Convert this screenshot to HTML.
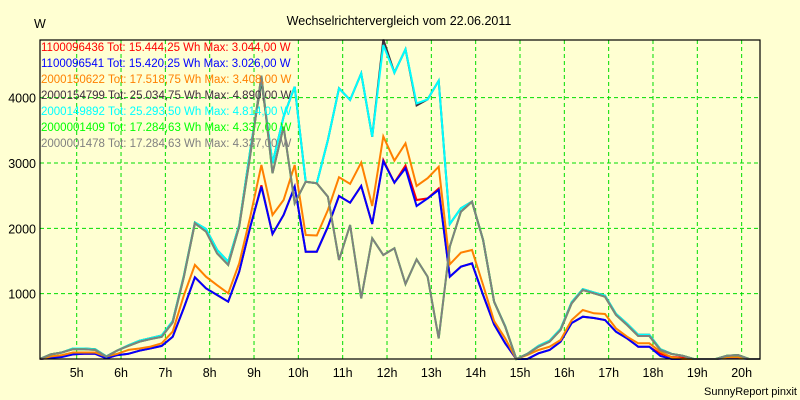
<!DOCTYPE html>
<html><head><meta charset="utf-8"><style>
body{margin:0;background:#FFFFD2;}
svg{display:block;font-family:"Liberation Sans",sans-serif;}
</style></head><body>
<svg id="chart" width="800" height="400" viewBox="0 0 800 400" xmlns="http://www.w3.org/2000/svg">
<rect x="0" y="0" width="800" height="400" fill="#FFFFD2"/>
<text x="399" y="25" font-size="12.5" text-anchor="middle" fill="#000">Wechselrichtervergleich vom 22.06.2011</text>
<text x="34" y="28" font-size="12.5" fill="#000">W</text>
<g id="grid"></g>
<g id="series"></g>
<rect x="40" y="40" width="720" height="319" fill="none" stroke="#000" stroke-width="1.2"/>
<g id="yticks"></g>
<g id="xticks"></g>
<g id="legend"></g>
<text x="797" y="395" font-size="11" text-anchor="end" fill="#000">SunnyReport pinxit</text>
</svg>
<script>
const startHour = 4 + 10/60;
const stepHour = 0.25;
const yTicks = [1000, 2000, 3000, 4000];
const xTickHours = [5,6,7,8,9,10,11,12,13,14,15,16,17,18,19,20];
const seriesNames = ["1100096436","1100096541","2000150622","2000154799","2000149892","2000001409","2000001478"];
const seriesInfo = ["Tot: 15.444,25 Wh Max: 3.044,00 W","Tot: 15.420,25 Wh Max: 3.026,00 W","Tot: 17.518,75 Wh Max: 3.408,00 W","Tot: 25.034,75 Wh Max: 4.890,00 W","Tot: 25.293,50 Wh Max: 4.814,00 W","Tot: 17.284,63 Wh Max: 4.337,00 W","Tot: 17.284,63 Wh Max: 4.337,00 W"];
const seriesColors = ["#FF0000","#0000FF","#FF8000","#403040","#00FFFF","#00FF00","#808080"];
const redValues = [0,20,50,70,80,80,10,60,80,127,163,200,340,780,1250,1082,980,877,1337,2025,2660,1913,2204,2637,1643,1643,2025,2495,2393,2648,2066,3044,2699,2960,2434,2459,2610,1260,1413,1464,980,530,240,0,0,87,138,265,551,648,628,597,418,316,189,189,80,30,20,0,0,0,30,30,0,0];
const blueValues = [0,20,30,70,80,80,10,60,80,127,163,200,340,780,1250,1082,980,877,1337,2025,2637,1913,2204,2637,1643,1643,2025,2495,2393,2648,2066,3026,2699,2919,2342,2459,2587,1260,1413,1464,980,530,240,0,0,87,138,265,551,648,628,597,418,316,189,189,46,0,0,0,0,0,15,15,0,0];
const orangeValues = [0,40,60,100,100,100,40,80,140,160,190,240,420,970,1440,1260,1130,1005,1465,2180,2970,2204,2434,2970,1898,1890,2281,2783,2681,3006,2342,3408,3036,3301,2648,2767,2944,1449,1627,1668,1133,580,316,0,61,138,189,291,597,750,699,689,469,342,240,240,112,26,0,0,0,0,26,26,0,0];
const blackValues = [0,70,100,160,160,150,40,130,210,280,320,360,580,1270,2090,1990,1670,1490,2050,3200,4250,2995,3709,4168,2714,2690,3352,4143,3964,4372,3403,4890,4382,4740,3880,3974,4260,2066,2306,2408,1821,877,500,0,80,200,280,460,870,1070,1020,970,690,540,370,370,150,80,50,0,0,0,50,60,0,0];
const cyanValues = [0,70,100,160,160,150,40,130,210,280,320,360,580,1270,2090,1990,1670,1490,2050,3200,4300,2995,3709,4168,2714,2690,3352,4143,3964,4372,3403,4806,4382,4740,3913,3974,4260,2066,2306,2408,1821,877,500,0,80,200,280,460,870,1070,1020,970,690,540,370,370,150,80,50,0,0,0,50,60,0,0];
const greenValues = [0,70,100,150,150,140,35,130,200,265,306,340,560,1250,2077,1950,1617,1440,2025,3122,4337,2842,3556,2383,2714,2690,2484,1515,2051,928,1847,1592,1694,1148,1525,1260,316,1720,2255,2408,1821,877,495,0,77,189,265,444,852,1056,1005,954,673,520,352,352,138,77,51,0,0,0,51,61,0,0];
const grayValues = [0,70,100,150,150,140,35,130,200,265,306,340,560,1250,2077,1950,1617,1440,2025,3122,4337,2842,3556,2383,2714,2690,2484,1515,2051,928,1847,1592,1694,1148,1525,1260,316,1720,2255,2408,1821,877,495,0,77,189,265,444,852,1056,1005,954,673,520,352,352,138,77,51,0,0,0,51,61,0,0];
const allSeries = [redValues, blueValues, orangeValues, blackValues, cyanValues, greenValues, grayValues];

const NS = "http://www.w3.org/2000/svg";
function xScale(h){ return 76.7 + (h - 5) * 44.33; }
function yScale(v){ return 359 - v * 0.06533; }
function mk(tag, attrs, parent){ const e = document.createElementNS(NS, tag); for (const k in attrs) e.setAttribute(k, attrs[k]); parent.appendChild(e); return e; }

const grid = document.getElementById('grid');
const yt = document.getElementById('yticks');
yTicks.forEach(v => {
  const l = mk('line', {x1:40, x2:760, y1:yScale(v), y2:yScale(v), stroke:'#00DD00', 'stroke-width':1, 'stroke-dasharray':'4,3'}, grid);
  
  
  const t = mk('text', {x:36, y:yScale(v)+5, 'font-size':12.5, 'text-anchor':'end', fill:'#000'}, yt);
  t.textContent = v;
  
  
});
const xt = document.getElementById('xticks');
xTickHours.forEach(h => {
  const l = mk('line', {x1:xScale(h), x2:xScale(h), y1:40, y2:359, stroke:'#00DD00', 'stroke-width':1, 'stroke-dasharray':'4,3'}, grid);
  
  
  const t = mk('text', {x:xScale(h), y:377, 'font-size':12.5, 'text-anchor':'middle', fill:'#000'}, xt);
  t.textContent = h + 'h';
  
  
});
const sg = document.getElementById('series');
allSeries.forEach((vals, i) => {
  const pts = vals.map((v, k) => xScale(startHour + k * stepHour).toFixed(1) + ',' + yScale(v).toFixed(1)).join(' ');
  const p = mk('polyline', {points:pts, fill:'none', stroke:seriesColors[i], 'stroke-width':2, 'stroke-linejoin':'miter'}, sg);
  
  
});
const lg = document.getElementById('legend');
seriesNames.forEach((n, i) => {
  const t = mk('text', {x:41, y:51 + i * 16, 'font-size':11.5, fill:seriesColors[i]}, lg);
  t.textContent = n + ' ' + seriesInfo[i];
  
  
});
</script>
</body></html>
